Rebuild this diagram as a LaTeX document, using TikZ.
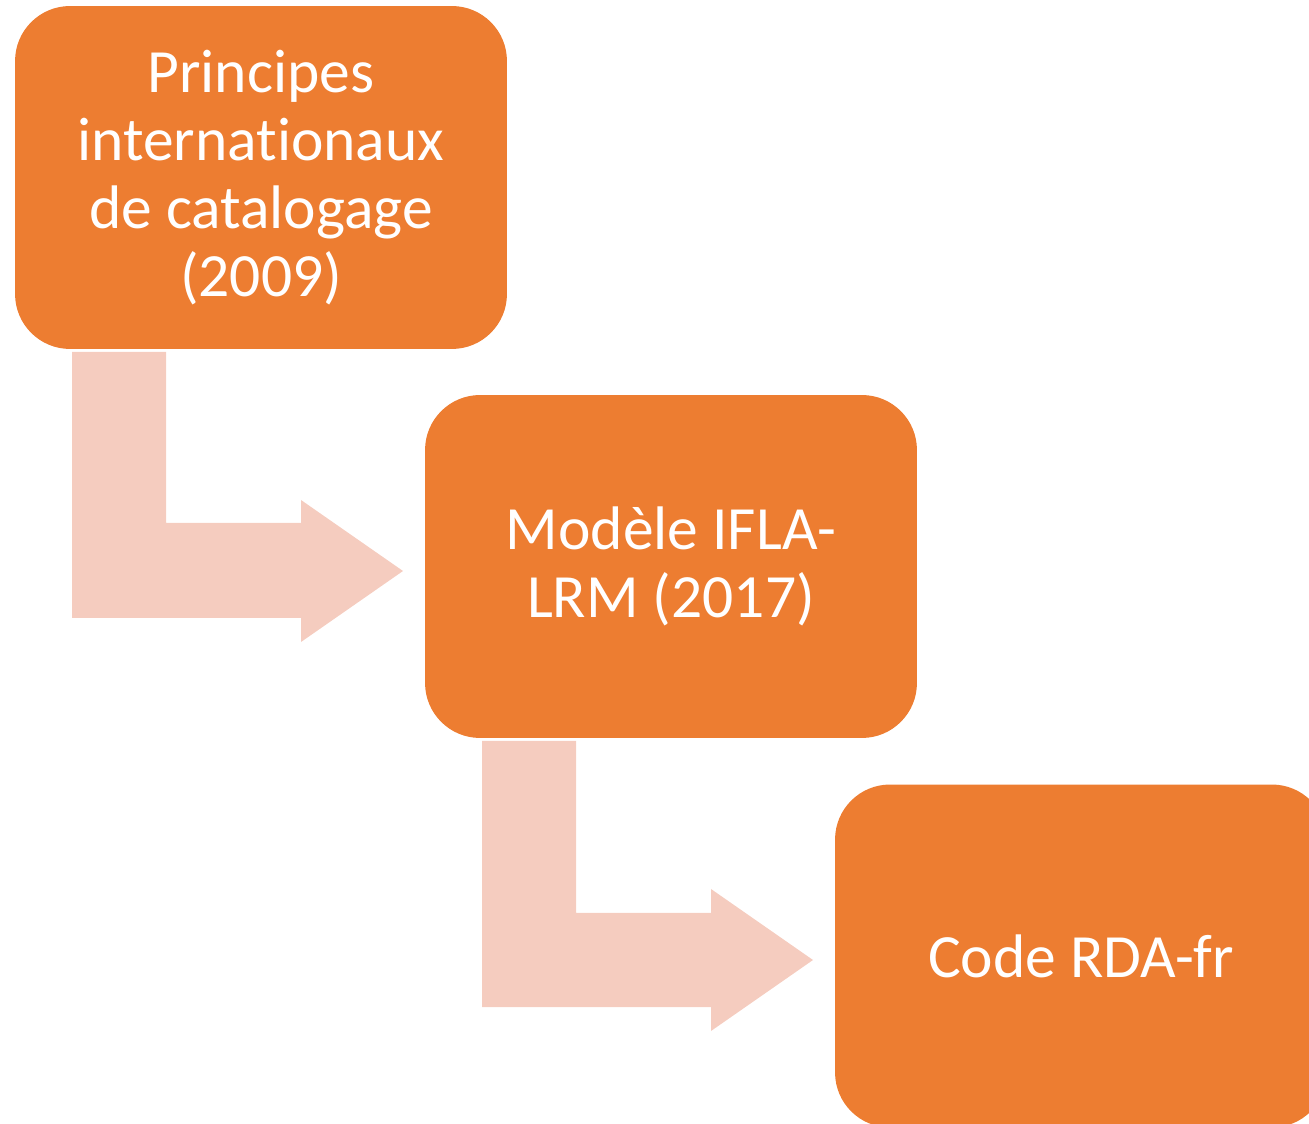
\documentclass[tikz,border=0pt]{standalone}
\usepackage{fontspec}
\setmainfont[Ligatures={NoCommon}]{Carlito}
\definecolor{boxorange}{HTML}{ED7D31}
\definecolor{arrowpink}{HTML}{F5CCBF}
\begin{document}
\begin{tikzpicture}[x=0.02cm,y=-0.02cm,
  stepbox/.style={fill=boxorange, draw=none, rounded corners=1.1cm,
    minimum width=9.84cm, minimum height=6.86cm, inner sep=0pt,
    text=white, align=center,
    font=\fontsize{35}{38.7}\selectfont},
  bentarrow/.style={fill=arrowpink, draw=none}]
\useasboundingbox (0,0) rectangle (1309,1124);
\clip (0,0) rectangle (1309,1124);
% arrows
\path[bentarrow] (72,352) -- (166,352) -- (166,523) -- (301,523) -- (301,500)
  -- (403,571) -- (301,642) -- (301,618) -- (72,618) -- cycle;
\path[bentarrow] (482,741) -- (576,741) -- (576,913) -- (711,913) -- (711,889)
  -- (813,960) -- (711,1031) -- (711,1007) -- (482,1007) -- cycle;
% boxes
\node[stepbox] (b1) at (261,177.5) {Principes\\internationaux\\de catalogage\\(2009)};
\node[stepbox] (b2) at (671,566.5) {Modèle IFLA-\\LRM (2017)};
\node[stepbox] (b3) at (1081,956) {Code RDA-fr};
\end{tikzpicture}
\end{document}
